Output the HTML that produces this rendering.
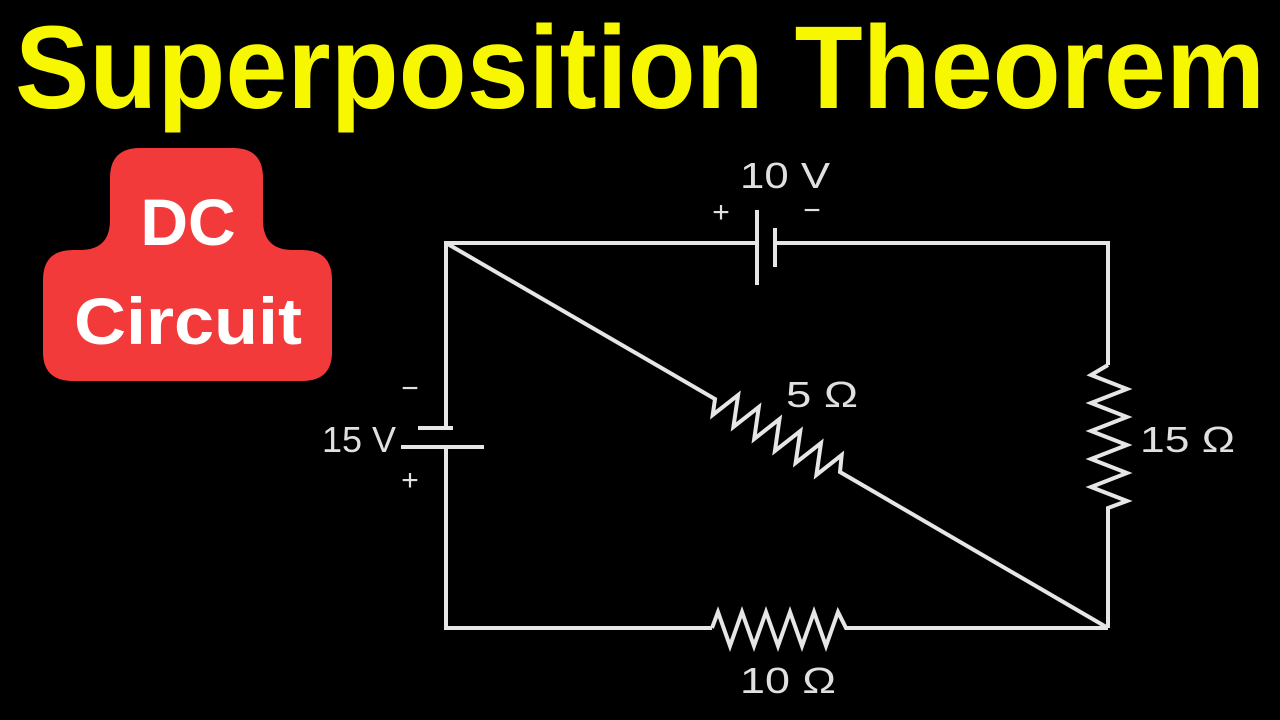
<!DOCTYPE html>
<html><head><style>
html,body{margin:0;padding:0;background:#000;}
svg{display:block;}
</style></head><body>
<svg width="1280" height="720" viewBox="0 0 1280 720" xmlns="http://www.w3.org/2000/svg">
<rect width="1280" height="720" fill="#000"/>
<text x="15" y="108" textLength="1250" lengthAdjust="spacingAndGlyphs" font-family="Liberation Sans, sans-serif" font-weight="bold" font-size="118" fill="#f7f700">Superposition Theorem</text>
<path d="M140 148 H233 Q263 148 263 178 V220 Q263 250 293 250 H302 Q332 250 332 280 V352 Q332 381 302 381 H73 Q43 381 43 352 V280 Q43 250 73 250 H80 Q110 250 110 220 V178 Q110 148 140 148 Z" fill="#f23a3a"/>
<text x="188" y="245" text-anchor="middle" font-family="Liberation Sans, sans-serif" font-weight="bold" font-size="66" fill="#fff">DC</text>
<text x="188" y="344" text-anchor="middle" textLength="228" lengthAdjust="spacingAndGlyphs" font-family="Liberation Sans, sans-serif" font-weight="bold" font-size="66" fill="#fff">Circuit</text>
<g stroke="#e6e6e6" stroke-width="4" fill="none" stroke-linejoin="miter">
<polyline points="757,243 446,243 446,428"/>
<line x1="418" y1="428" x2="453" y2="428"/>
<line x1="401" y1="447" x2="484" y2="447"/>
<polyline points="446,447 446,628 712,628"/>
<line x1="757" y1="210" x2="757" y2="285"/>
<line x1="775" y1="228" x2="775" y2="267"/>
<polyline points="775,243 1108,243 1108,365"/>
<polyline points="1108,365 1091,375 1127,389 1091,403 1127,417 1091,431 1127,445 1091,459 1127,473 1091,487 1127,501 1108,508 1108,628"/>
<polyline points="712,628 718,612 730,646 742,612 754,646 766,612 778,646 790,612 802,646 814,612 826,646 838,612 846,628 1108,628"/>
<polyline points="446,243 715,399 712.7,415 738.1,395 733.4,427 758.8,407 754.2,439 779.5,419 774.9,451 800.3,431 795.6,463 821,443 816.4,475 841.7,455 840,472 1108,628"/>
</g>
<g font-family="Liberation Sans, sans-serif" font-size="36" fill="#e0e0e0">
<text x="740" y="188" textLength="90" lengthAdjust="spacingAndGlyphs">10 V</text>
<text x="721" y="222" text-anchor="middle" font-size="30">+</text>
<text x="812" y="220" text-anchor="middle" font-size="30">−</text>
<text x="396" y="452" text-anchor="end">15 V</text>
<text x="410" y="398" text-anchor="middle" font-size="30">−</text>
<text x="410" y="490" text-anchor="middle" font-size="30">+</text>
<text x="786" y="407" textLength="72" lengthAdjust="spacingAndGlyphs">5 Ω</text>
<text x="1140" y="452" textLength="95" lengthAdjust="spacingAndGlyphs">15 Ω</text>
<text x="740" y="693" textLength="96" lengthAdjust="spacingAndGlyphs">10 Ω</text>
</g>
</svg>
</body></html>
